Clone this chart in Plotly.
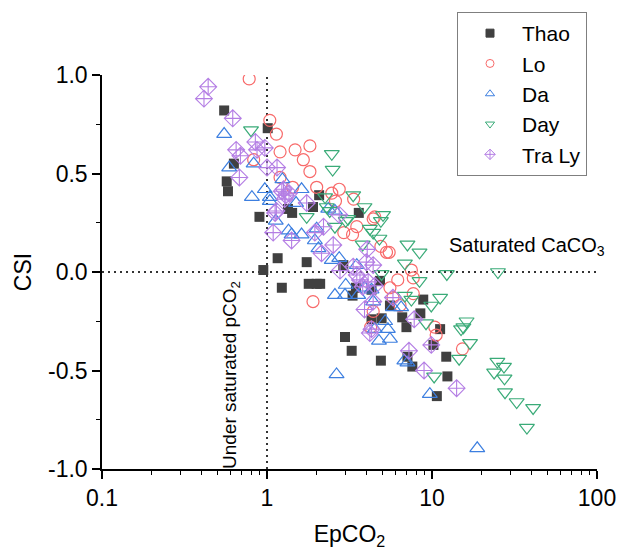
import plotly.graph_objects as go

# ---- data (EpCO2, CSI) ----
thao_x = [0.55, 1.01, 0.63, 0.57, 0.58, 0.90, 0.95, 1.16, 1.23, 1.34, 1.42, 1.74, 1.79, 2.0, 2.1,
          1.9, 2.07, 3.6, 2.9, 3.3, 3.46, 2.97, 3.26, 4.9, 4.3, 4.84, 4.95, 4.3, 5.56, 6.6,
          7.0, 8.5, 8.85, 11.2, 10.2, 12.2, 7.6, 7.1, 12.4, 10.7]
thao_y = [0.82, 0.73, 0.55, 0.46, 0.41, 0.28, 0.01, 0.07, -0.08, 0.32, 0.30, 0.05, -0.06, -0.06, -0.06,
          0.33, 0.39, 0.30, 0.035, -0.12, -0.08, -0.33, -0.40, -0.45, -0.09, -0.045, -0.235, -0.24, -0.17, -0.23,
          -0.28, -0.21, -0.14, -0.29, -0.37, -0.43, -0.48, -0.43, -0.53, -0.63]

lo_x = [0.78, 1.04, 1.14, 1.2, 1.48, 1.82, 1.66, 1.82, 0.83, 1.2, 1.43, 2.0, 2.47, 2.74, 2.6,
        3.35, 4.5, 4.4, 3.5, 3.3, 2.92, 4.9, 5.3, 5.5, 7.5, 7.7, 6.2, 5.56, 5.8, 1.9,
        7.7, 6.4, 4.4, 4.25, 10.4, 10.6, 15.3]
lo_y = [0.98, 0.77, 0.70, 0.61, 0.62, 0.64, 0.57, 0.51, 0.57, 0.48, 0.43, 0.43, 0.40, 0.42, 0.36,
        0.37, 0.28, 0.27, 0.23, 0.19, 0.20, 0.13, 0.10, 0.10, 0.01, -0.03, -0.04, -0.08, -0.13, -0.15,
        -0.11, -0.17, -0.20, -0.28, -0.28, -0.32, -0.39]

da_x = [0.55, 0.59, 0.83, 1.24, 0.97, 0.81, 1.04, 1.62, 1.5, 2.35, 2.58, 1.04, 1.13, 1.35, 1.41,
        1.62, 2.0, 1.95, 2.05, 2.47, 2.74, 3.5, 3.0, 2.58, 2.97, 3.57, 3.9, 4.3, 4.4, 5.8,
        6.5, 5.2, 4.5, 5.4, 5.56, 4.77, 2.64, 6.8, 7.1, 9.7, 18.8]
da_y = [0.70, 0.53, 0.55, 0.47, 0.42, 0.38, 0.38, 0.42, 0.35, 0.32, 0.31, 0.36, 0.26, 0.21, 0.19,
        0.19, 0.22, 0.16, 0.12, 0.06, 0.07, 0.035, -0.066, -0.117, -0.117, -0.117, -0.08, -0.09, -0.15, -0.18,
        -0.18, -0.25, -0.29, -0.29, -0.34, -0.35, -0.52, -0.45, -0.46, -0.62, -0.895]

day_x = [0.8, 2.47, 2.5, 2.25, 3.33, 3.9, 1.74, 2.3, 2.4, 3.1, 3.0, 5.05, 4.9, 2.58, 4.2,
         4.4, 4.8, 3.8, 7.1, 8.4, 6.85, 4.95, 8.4, 12.3, 25.1, 6.85, 7.5, 9.9, 11.2, 9.2,
         16.2, 15.0, 17.0, 14.6, 10.3, 24.9, 27.3, 23.8, 27.5, 27.7, 32.6, 41.0, 37.6, 15.5]
day_y = [0.72, 0.60, 0.52, 0.38, 0.39, 0.33, 0.28, 0.33, 0.31, 0.27, 0.26, 0.29, 0.26, 0.23, 0.22,
         0.20, 0.17, 0.14, 0.14, 0.10, 0.044, -0.01, -0.045, -0.01, 0.0, -0.12, -0.14, -0.17, -0.13, -0.26,
         -0.25, -0.29, -0.36, -0.44, -0.53, -0.455, -0.48, -0.51, -0.54, -0.61, -0.66, -0.69, -0.79, -0.28]

traly_x = [0.44, 0.415, 0.62, 0.85, 0.87, 0.97, 0.65, 0.69, 1.0, 1.15, 0.68, 1.26, 1.23, 1.3, 1.36,
           1.28, 1.74, 1.14, 1.12, 2.74, 1.09, 1.41, 1.95, 2.2, 2.14, 2.52, 2.77, 3.33, 3.5, 3.66,
           4.0, 4.4, 4.05, 4.1, 3.8, 4.5, 5.8, 3.9, 4.4, 4.2, 4.3, 7.8, 9.9, 7.25, 8.95, 14.1]
traly_y = [0.94, 0.88, 0.78, 0.66, 0.62, 0.63, 0.62, 0.59, 0.53, 0.53, 0.48, 0.42, 0.41, 0.39, 0.40,
           0.37, 0.35, 0.31, 0.30, 0.29, 0.20, 0.16, 0.20, 0.23, 0.095, 0.137, 0.007, 0.027, -0.015, -0.04,
           0.05, 0.035, 0.115, -0.05, -0.075, -0.07, -0.13, -0.19, -0.15, -0.31, -0.29, -0.24, -0.37, -0.40, -0.50, -0.59]

series_names = ["Thao", "Lo", "Da", "Day", "Tra Ly"]
y_ticks = [-1.0, -0.5, 0.0, 0.5, 1.0]
y_tick_labels = ["-1.0", "-0.5", "0.0", "0.5", "1.0"]
x_ticks = [0.1, 1, 10, 100]
x_tick_labels = ["0.1", "1", "10", "100"]

FONT = "Liberation Sans, Arial, sans-serif"

fig = go.Figure()

# reference lines
fig.add_trace(go.Scatter(x=[1, 1], y=[-1, 1.015], mode="lines", showlegend=False, hoverinfo="skip",
                         line=dict(color="#333333", width=2, dash="2px,4px"), cliponaxis=False))
fig.add_trace(go.Scatter(x=[0.1, 100], y=[0, 0], mode="lines", showlegend=False, hoverinfo="skip",
                         line=dict(color="#333333", width=2, dash="2px,4px")))

styles = [
    (thao_x, thao_y, "square", 10, "#404040", 0),
    (lo_x, lo_y, "circle-open", 12, "#f86a6a", 1.2),
    (da_x, da_y, "triangle-up-open", 13, "#3d7fe0", 1.2),
    (day_x, day_y, "triangle-down-open", 13, "#3aab78", 1.2),
    (traly_x, traly_y, "diamond-cross-open", 13, "#b47ee4", 1.1),
]
for name, (xs, ys, sym, sz, col, lw) in zip(series_names, styles):
    fig.add_trace(go.Scatter(x=xs, y=ys, mode="markers", name=name, showlegend=False,
                             marker=dict(symbol=sym, size=sz, color=col, line=dict(width=lw, color=col))))
# legend entries with small markers
for name, (xs, ys, sym, sz, col, lw) in zip(series_names, styles):
    fig.add_trace(go.Scatter(x=[None], y=[None], mode="markers", name=name, showlegend=True,
                             marker=dict(symbol=sym, size=8, color=col, line=dict(width=1, color=col))))

W, H = 643, 557
pl, pr, pt, pb = 102, 597, 75, 469
OX, OY = 8, 8  # page offset of the figure in the browser

fig.update_layout(
    width=W, height=H,
    margin=dict(l=pl - OX, r=W - (pr - OX), t=pt - OY, b=H - (pb - OY), autoexpand=False),
    paper_bgcolor="white", plot_bgcolor="white",
    font=dict(family=FONT, size=23, color="black"),
    showlegend=True,
    legend=dict(xref="container", yref="container",
                x=(457 - OX) / W, y=1 - (12 - OY) / H, xanchor="left", yanchor="top",
                bordercolor="#7f7f7f", borderwidth=1, bgcolor="white",
                font=dict(size=21, family=FONT), itemwidth=54, tracegroupgap=0),
    xaxis=dict(type="log", range=[-1, 2], tickvals=x_ticks, ticktext=x_tick_labels,
               showline=True, linecolor="black", linewidth=1.5, ticks="outside", ticklen=8,
               tickwidth=1.5, tickcolor="black", showgrid=False, zeroline=False,
               tickfont=dict(size=23),
               minor=dict(ticks="outside", ticklen=4, tickwidth=1, tickcolor="black",
                          dtick="D1", showgrid=False),
               title=dict(text="EpCO<sub>2</sub>", font=dict(size=23), standoff=16)),
    yaxis=dict(range=[-1, 1], tickvals=y_ticks, ticktext=y_tick_labels,
               showline=True, linecolor="black", linewidth=1.5, ticks="outside", ticklen=8,
               tickwidth=1.5, tickcolor="black", showgrid=False, zeroline=False,
               tickfont=dict(size=23),
               minor=dict(ticks="outside", ticklen=4, tickwidth=1, tickcolor="black",
                          dtick=0.25, showgrid=False),
               title=dict(text="CSI", font=dict(size=23), standoff=10)),
    annotations=[
        dict(text="Saturated CaCO<sub>3</sub>", x=(447 - pl) / (pr - pl), y=(pb - 246) / (pb - pt),
             xref="paper", yref="paper",
             showarrow=False, font=dict(size=20), xanchor="left", yanchor="middle"),
        dict(text="Under saturated pCO<sub>2</sub>", x=(231 - pl) / (pr - pl), y=(pb - 375) / (pb - pt),
             xref="paper", yref="paper",
             showarrow=False, font=dict(size=19), textangle=-90, xanchor="center", yanchor="middle"),
    ],
)

fig.write_html("out.html")
